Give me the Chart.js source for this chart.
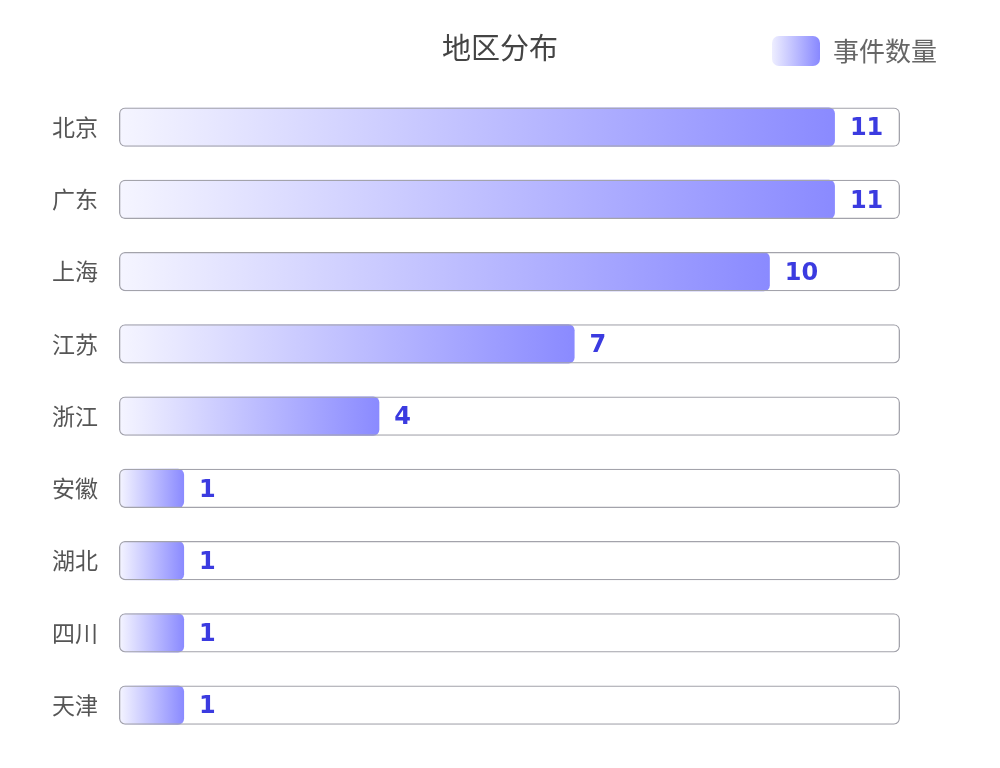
<!DOCTYPE html>
<html>
<head>
<meta charset="utf-8">
<script src="https://cdn.jsdelivr.net/npm/chart.js@4"></script>
<style>
  html, body { margin: 0; padding: 0; background: #fff; }
  #wrap { width: 1000px; height: 768px; }
</style>
</head>
<body>
<div id="wrap"><canvas id="chart"></canvas></div>
<script>
// données
const regions = ['北京', '广东', '上海', '江苏', '浙江', '安徽', '湖北', '四川', '天津'];
const counts = [11, 11, 10, 7, 4, 1, 1, 1, 1];
const maxValue = 12;
const track = regions.map(() => maxValue);

const cjk = '"Noto Sans CJK SC", "Noto Sans", sans-serif';

// dégradé de chaque barre, du début à la fin de la barre
function barGradient(context) {
  const chart = context.chart;
  const { ctx, chartArea, scales } = chart;
  if (!chartArea || context.dataIndex === undefined) return '#8a8aff';
  const x0 = scales.x.getPixelForValue(0);
  const x1 = scales.x.getPixelForValue(context.raw);
  const g = ctx.createLinearGradient(x0, 0, x1, 0);
  g.addColorStop(0, '#f5f5ff');
  g.addColorStop(1, '#8a8aff');
  return g;
}

// valeurs à droite des barres
const valueLabels = {
  id: 'valueLabels',
  afterDatasetsDraw(chart) {
    const ctx = chart.ctx;
    const meta = chart.getDatasetMeta(1);
    ctx.save();
    ctx.font = 'bold 24px "DejaVu Sans", sans-serif';
    ctx.fillStyle = '#3b3be0';
    ctx.textBaseline = 'middle';
    ctx.textAlign = 'left';
    meta.data.forEach((bar, i) => {
      ctx.fillText(String(counts[i]), bar.x + 15, bar.y + 2);
    });
    ctx.restore();
  }
};

// titre sur la même ligne que la légende + dégradé de la case de légende
const centerTitle = {
  id: 'centerTitle',
  beforeDraw(chart) {
    const box = chart.legend.legendHitBoxes[0];
    const item = chart.legend.legendItems[0];
    if (box && item) {
      const g = chart.ctx.createLinearGradient(box.left, 0, box.left + 48, 0);
      g.addColorStop(0, '#eeeeff');
      g.addColorStop(1, '#8888ff');
      item.fillStyle = g;
    }
  },
  afterDraw(chart) {
    const ctx = chart.ctx;
    ctx.save();
    ctx.font = '29px ' + cjk;
    ctx.fillStyle = '#444';
    ctx.textAlign = 'center';
    ctx.textBaseline = 'middle';
    ctx.fillText('地区分布', 500, 48);
    ctx.restore();
  }
};

new Chart(document.getElementById('chart'), {
  type: 'bar',
  data: {
    labels: regions,
    datasets: [
      {
        label: 'track',
        data: track,
        backgroundColor: 'rgba(255,255,255,0)',
        borderColor: '#a3a3ab',
        borderWidth: 1.3,
        borderRadius: 6,
        borderSkipped: false,
        order: 0
      },
      {
        label: '事件数量',
        data: counts,
        backgroundColor: barGradient,
        borderWidth: 0,
        borderRadius: 6,
        borderSkipped: false,
        order: 1
      }
    ]
  },
  options: {
    indexAxis: 'y',
    responsive: true,
    maintainAspectRatio: false,
    animation: false,
    layout: { padding: { top: 20, right: 47, bottom: 13, left: 39 } },
    datasets: {
      bar: { grouped: false, categoryPercentage: 1, barPercentage: 0.545 }
    },
    scales: {
      x: {
        display: false,
        min: 0,
        max: maxValue
      },
      y: {
        grid: { display: false },
        border: { display: false },
        ticks: {
          color: '#555',
          font: { family: cjk, size: 23 },
          padding: 13
        }
      },
      // espace vide à droite des barres
      yRight: {
        position: 'right',
        grid: { display: false },
        border: { display: false },
        ticks: { display: false },
        afterFit(scale) { scale.width = 53; }
      }
    },
    plugins: {
      tooltip: { enabled: false },
      subtitle: {
        display: true,
        text: '',
        weight: 500,
        font: { size: 10 },
        padding: { top: 0, bottom: 3 }
      },
      legend: {
        position: 'top',
        align: 'end',
        labels: {
          filter: item => item.text !== 'track',
          color: '#666',
          font: { family: cjk, size: 26 },
          boxWidth: 48,
          boxHeight: 30,
          useBorderRadius: true,
          borderRadius: 7,
          padding: 16
        }
      }
    }
  },
  plugins: [valueLabels, centerTitle]
});
</script>
</body>
</html>
